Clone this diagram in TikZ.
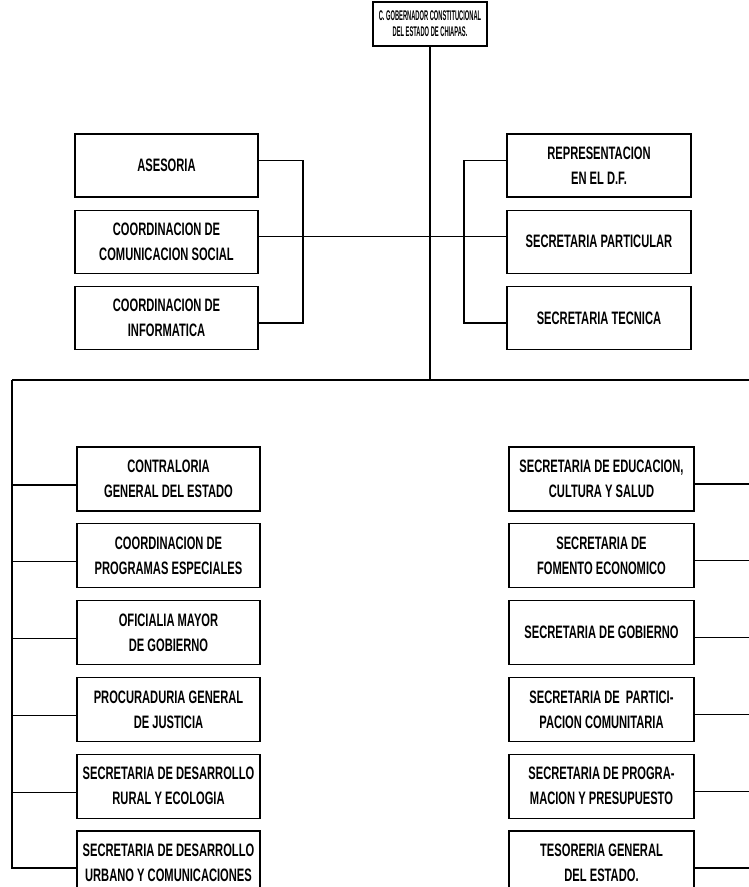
\documentclass[tikz,border=0pt]{standalone}
\usepackage{fontspec}
\newfontfamily\printfont[FakeStretch=0.62]{Liberation Sans}
\newfontfamily\headfont[FakeStretch=0.41]{Liberation Sans}
\usetikzlibrary{positioning}

\begin{document}
\begin{tikzpicture}[x=1pt,y=-1pt,line width=1.2pt,
  unit box/.style={draw,minimum width=183pt,minimum height=63pt,align=center,inner sep=1pt,font=\printfont\bfseries\fontsize{18}{25}\selectfont},
  head box/.style={draw,minimum width=114pt,minimum height=44pt,align=center,inner sep=1pt,font=\headfont\bfseries\fontsize{14}{16}\selectfont}]

  \useasboundingbox (0,0) rectangle (749,887);

  \node[head box] (gob) at (430,24) {C. GOBERNADOR CONSTITUCIONAL\\DEL ESTADO DE CHIAPAS.};

  \node[unit box] (ases) at (166.5,165.5) {ASESORIA};
  \node[unit box] (comsoc) [below=12pt of ases] {COORDINACION DE\\COMUNICACION SOCIAL};
  \node[unit box] (info) [below=12pt of comsoc] {COORDINACION DE\\INFORMATICA};

  \node[unit box,minimum width=184pt] (repr) at (599,165.5) {REPRESENTACION\\EN EL D.F.};
  \node[unit box,minimum width=184pt] (partic) [below=12pt of repr] {SECRETARIA PARTICULAR};
  \node[unit box,minimum width=184pt] (tecn) [below=12pt of partic] {SECRETARIA TECNICA};

  \node[unit box,minimum height=64pt] (contra) at (168.5,479) {CONTRALORIA\\GENERAL DEL ESTADO};
  \node[unit box,minimum height=64pt] (progesp) [below=11.6pt of contra] {COORDINACION DE\\PROGRAMAS ESPECIALES};
  \node[unit box,minimum height=64pt] (oficial) [below=11.6pt of progesp] {OFICIALIA MAYOR\\DE GOBIERNO};
  \node[unit box,minimum height=64pt] (procu) [below=11.6pt of oficial] {PROCURADURIA GENERAL\\DE JUSTICIA};
  \node[unit box,minimum height=64pt] (desrur) [below=11.6pt of procu] {SECRETARIA DE DESARROLLO\\RURAL Y ECOLOGIA};
  \node[unit box,minimum height=64pt] (desurb) [below=11.6pt of desrur] {SECRETARIA DE DESARROLLO\\URBANO Y COMUNICACIONES};

  \node[unit box,minimum width=185pt,minimum height=64pt] (educ) at (601.5,479) {SECRETARIA DE EDUCACION,\\CULTURA Y SALUD};
  \node[unit box,minimum width=185pt,minimum height=64pt] (fomento) [below=11.6pt of educ] {SECRETARIA DE\\FOMENTO ECONOMICO};
  \node[unit box,minimum width=185pt,minimum height=64pt] (gobierno) [below=11.6pt of fomento] {SECRETARIA DE GOBIERNO};
  \node[unit box,minimum width=185pt,minimum height=64pt] (particip) [below=11.6pt of gobierno] {SECRETARIA DE \ PARTICI-\\PACION COMUNITARIA};
  \node[unit box,minimum width=185pt,minimum height=64pt] (progra) [below=11.6pt of particip] {SECRETARIA DE PROGRA-\\MACION Y PRESUPUESTO};
  \node[unit box,minimum width=185pt,minimum height=64pt] (tesor) [below=11.6pt of progra] {TESORERIA GENERAL\\DEL ESTADO.};

  \coordinate (lbr) at (303,0);
  \coordinate (rbr) at (464,0);
  \coordinate (mbus) at (430,380);
  \coordinate (lbus) at (12,380);
  \coordinate (rbus) at (749,380);

  \draw (gob) -- (mbus);
  \draw ([yshift=5pt]comsoc.east) -- ([yshift=5pt]partic.west);
  \draw ([yshift=5pt]ases.east) -| ([yshift=-5pt]lbr |- info.east) -- ([yshift=-5pt]info.east);
  \draw ([yshift=5pt]repr.west) -| ([yshift=-5pt]rbr |- tecn.west) -- ([yshift=-5pt]tecn.west);

  \draw (lbus) -- (rbus);
  \draw (lbus) |- ([yshift=-5pt]desurb.west);
  \foreach \b in {contra,progesp,oficial,procu,desrur}
    \draw ([yshift=-6pt]\b.west) -- ([yshift=-6pt]\b.west -| lbus);
  \foreach \b in {educ,fomento,gobierno,particip,progra,tesor}
    \draw ([yshift=-5pt]\b.east) -- ([yshift=-5pt]\b.east -| rbus);

\end{tikzpicture}
\end{document}
